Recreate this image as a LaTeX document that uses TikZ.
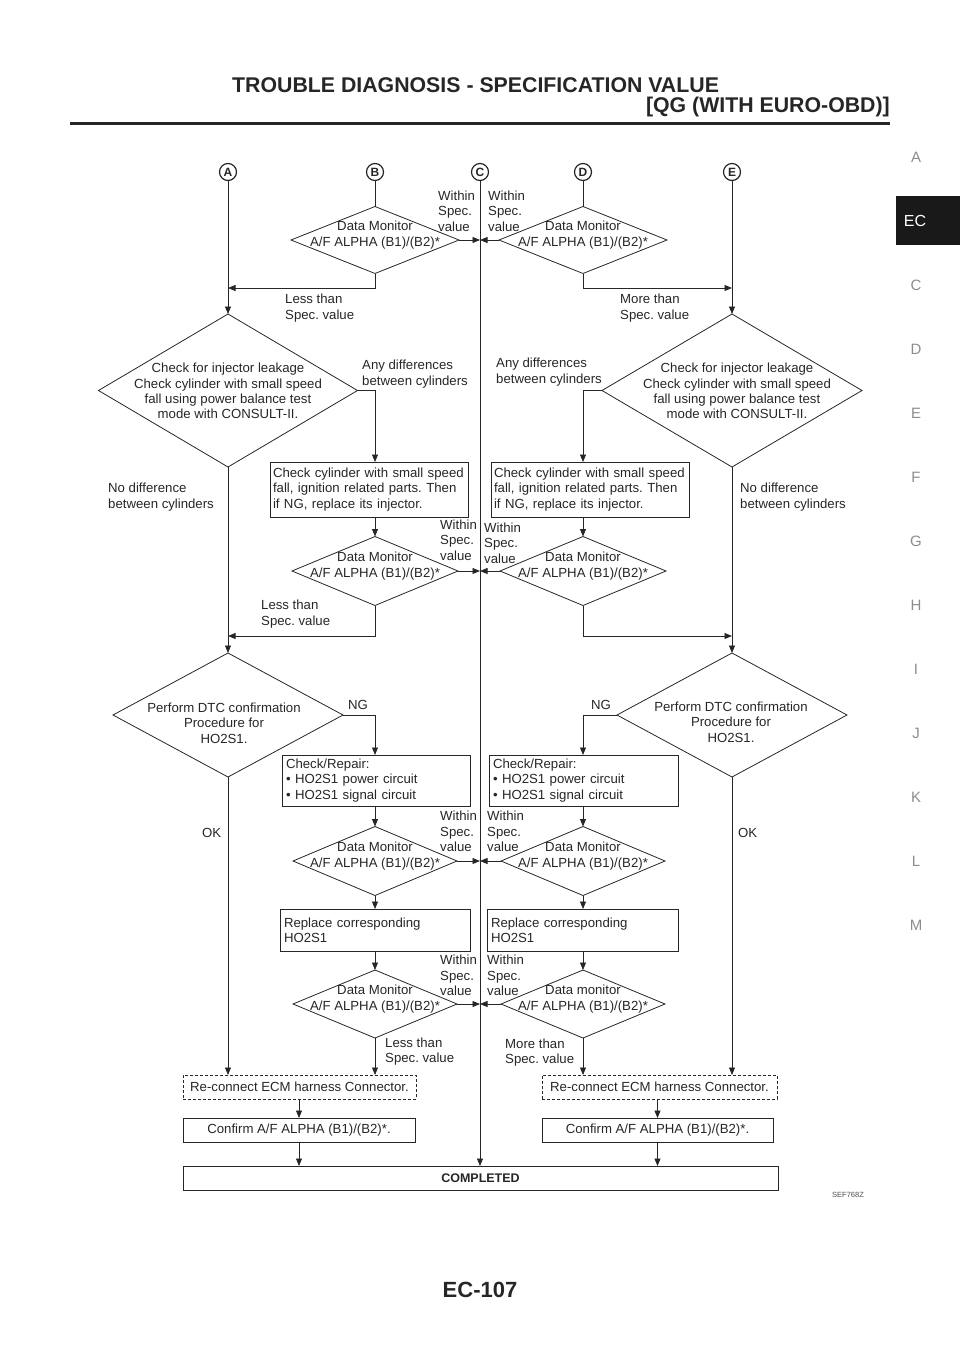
\documentclass[tikz,border=0pt]{standalone}
\usepackage{fontspec}
\setmainfont{Liberation Sans}
\usetikzlibrary{shapes.geometric,arrows.meta,calc}
\definecolor{ink}{gray}{0.15}
\definecolor{side}{gray}{0.55}
\frenchspacing
\begin{document}
\begin{tikzpicture}[x=1pt,y=-1pt,
  txt/.style={font=\fontsize{13.2}{15.4}\selectfont, text=ink, inner sep=0pt, align=left},
  ctxt/.style={txt, align=center},
  dia/.style={diamond, draw=ink, line width=0.8pt, inner sep=0pt, outer sep=0pt},
  boxn/.style={rectangle, draw=ink, line width=0.8pt, inner xsep=4pt, inner ysep=0pt, outer sep=0pt,
    font=\fontsize{13.2}{15.4}\selectfont, text=ink, align=left},
  cbox/.style={rectangle, draw=ink, line width=0.8pt, inner sep=0pt, outer sep=0pt,
    font=\fontsize{13.2}{15.4}\selectfont, text=ink, align=center, minimum height=24pt},
  conn/.style={draw=ink, line width=0.8pt},
  arr/.style={conn, -{Triangle[length=7.5pt,width=6pt]}},
  circ/.style={circle, draw=ink, line width=1.2pt, minimum size=17pt, inner sep=0pt,
    font=\fontsize{12}{12}\selectfont\bfseries, text=ink},
  sidel/.style={font=\fontsize{15}{15}\selectfont, text=side, inner sep=0pt},
]
\useasboundingbox (0,0) rectangle (960,1358);

% ---------- header ----------
\node[anchor=base west, inner sep=0pt, font=\fontsize{21.3}{24}\selectfont\bfseries, text=ink] (title) at (232,92) {TROUBLE DIAGNOSIS - SPECIFICATION VALUE};
\node[anchor=base east, inner sep=0pt, font=\fontsize{21.3}{24}\selectfont\bfseries, text=ink] (subtitle) at (890,112) {[QG (WITH EURO-OBD)]};
\draw[line width=3pt, draw=ink] (70,123.5) -- (890,123.5);

% ---------- side index ----------
\fill[black!90] (896,196) rectangle (960,245);
\node[font=\fontsize{16}{16}\selectfont, text=white, inner sep=0pt] (ec) at (915,221) {EC};
\node[sidel] (sA) at (916,157) {A};
\node[sidel] (sC) at (916,285) {C};
\node[sidel] (sD) at (916,349) {D};
\node[sidel] (sE) at (916,413) {E};
\node[sidel] (sF) at (916,477) {F};
\node[sidel] (sG) at (916,541) {G};
\node[sidel] (sH) at (916,605) {H};
\node[sidel] (sI) at (916,669) {I};
\node[sidel] (sJ) at (916,733) {J};
\node[sidel] (sK) at (916,797) {K};
\node[sidel] (sL) at (916,861) {L};
\node[sidel] (sM) at (916,925) {M};

% ---------- footer ----------
\node[font=\fontsize{22}{24}\selectfont\bfseries, text=ink, inner sep=0pt] (page) at (480,1290) {EC-107};
\node[font=\fontsize{7.5}{8}\selectfont, text=black!70, inner sep=0pt] (code) at (848,1195) {SEF768Z};

% ---------- start points ----------
\node[circ] (A) at (228,172) {A};
\node[circ] (B) at (375,172) {B};
\node[circ] (C) at (480,172) {C};
\node[circ] (D) at (583,172) {D};
\node[circ] (E) at (732,172) {E};

% ---------- row 1: data monitor ----------
\node[dia, minimum width=168pt, minimum height=67pt] (b1) at (375,240) {};
\node[ctxt] (b1t) at ($(b1)+(0,-5)$) {Data Monitor\\A/F ALPHA (B1)/(B2)*};
\node[dia, minimum width=168pt, minimum height=67pt] (r1) at (583,240) {};
\node[ctxt] (r1t) at ($(r1)+(0,-5)$) {Data Monitor\\A/F ALPHA (B1)/(B2)*};
\node[txt, anchor=west] (w1l) at (438,211) {Within\\Spec.\\value};
\node[txt, anchor=west] (w1r) at (488,211) {Within\\Spec.\\value};
\node[txt, anchor=west] (lt1) at (285,308) {Less than\\Spec. value};
\node[txt, anchor=west] (mt1) at (620,308) {More than\\Spec. value};

% ---------- row 2: injector leakage ----------
\node[dia, minimum width=259pt, minimum height=153pt] (l2) at (228,390.5) {};
\node[ctxt] (l2t) at (228,391) {Check for injector leakage\\Check cylinder with small speed\\fall using power balance test\\mode with CONSULT-II.};
\node[dia, minimum width=260pt, minimum height=153pt] (r2) at (732,390.5) {};
\node[ctxt] (r2t) at (737,391) {Check for injector leakage\\Check cylinder with small speed\\fall using power balance test\\mode with CONSULT-II.};
\node[txt, anchor=west] (ad1) at (362,374) {Any differences\\between cylinders};
\node[txt, anchor=west] (ad2) at (496,372) {Any differences\\between cylinders};
\node[txt, anchor=west] (nd1) at (108,497) {No difference\\between cylinders};
\node[txt, anchor=west] (nd2) at (740,497) {No difference\\between cylinders};

\node[boxn, inner xsep=3pt, text width=192pt, minimum height=55pt] (lb1) at (369,489.5) {Check cylinder with small speed\\fall, ignition related parts. Then\\if NG, replace its injector.};
\node[boxn, inner xsep=3pt, text width=192pt, minimum height=55pt] (rb1) at (590,489.5) {Check cylinder with small speed\\fall, ignition related parts. Then\\if NG, replace its injector.};

% ---------- row 3: data monitor ----------
\node[dia, minimum width=166pt, minimum height=69pt] (l3) at (375,571) {};
\node[ctxt] (l3t) at ($(l3)+(0,-5)$) {Data Monitor\\A/F ALPHA (B1)/(B2)*};
\node[dia, minimum width=166pt, minimum height=69pt] (r3) at (583,571) {};
\node[ctxt] (r3t) at ($(r3)+(0,-5)$) {Data Monitor\\A/F ALPHA (B1)/(B2)*};
\node[txt, anchor=west] (w3l) at (440,540) {Within\\Spec.\\value};
\node[txt, anchor=west] (w3r) at (484,543) {Within\\Spec.\\value};
\node[txt, anchor=west] (lt3) at (261,614) {Less than\\Spec. value};

% ---------- row 4: DTC ----------
\node[dia, minimum width=230pt, minimum height=124pt] (l4) at (228,715) {};
\node[ctxt] (l4t) at (224,723) {Perform DTC confirmation\\Procedure for\\HO2S1.};
\node[dia, minimum width=230pt, minimum height=124pt] (r4) at (732,715) {};
\node[ctxt] (r4t) at (731,722) {Perform DTC confirmation\\Procedure for\\HO2S1.};
\node[txt, anchor=west] (ng1) at (348,705) {NG};
\node[txt, anchor=west] (ng2) at (591,705) {NG};
\node[txt, anchor=west] (ok1) at (202,833) {OK};
\node[txt, anchor=west] (ok2) at (738,833) {OK};

\node[boxn, text width=180pt, minimum height=51pt] (lc) at (376,780.5) {Check/Repair:\\\textbullet{} HO2S1 power circuit\\\textbullet{} HO2S1 signal circuit};
\node[boxn, text width=181pt, minimum height=51pt] (rc) at (583.5,780.5) {Check/Repair:\\\textbullet{} HO2S1 power circuit\\\textbullet{} HO2S1 signal circuit};

% ---------- row 5: data monitor ----------
\node[dia, minimum width=164pt, minimum height=69pt] (l5) at (375,861) {};
\node[ctxt] (l5t) at ($(l5)+(0,-5)$) {Data Monitor\\A/F ALPHA (B1)/(B2)*};
\node[dia, minimum width=164pt, minimum height=69pt] (r5) at (583,861) {};
\node[ctxt] (r5t) at ($(r5)+(0,-5)$) {Data Monitor\\A/F ALPHA (B1)/(B2)*};
\node[txt, anchor=west] (w5l) at (440,831.5) {Within\\Spec.\\value};
\node[txt, anchor=west] (w5r) at (487,831.5) {Within\\Spec.\\value};

% ---------- row 6: replace ----------
\node[boxn, text width=182pt, minimum height=42pt] (l6) at (375,930) {Replace corresponding\\HO2S1};
\node[boxn, text width=183pt, minimum height=42pt] (r6) at (582.5,930) {Replace corresponding\\HO2S1};

% ---------- row 7: data monitor ----------
\node[dia, minimum width=164pt, minimum height=68pt] (l7) at (375,1004) {};
\node[ctxt] (l7t) at ($(l7)+(0,-5)$) {Data Monitor\\A/F ALPHA (B1)/(B2)*};
\node[dia, minimum width=164pt, minimum height=68pt] (r7) at (583,1004) {};
\node[ctxt] (r7t) at ($(r7)+(0,-5)$) {Data monitor\\A/F ALPHA (B1)/(B2)*};
\node[txt, anchor=west] (w7l) at (440,975.5) {Within\\Spec.\\value};
\node[txt, anchor=west] (w7r) at (487,975.5) {Within\\Spec.\\value};
\node[txt, anchor=west] (lt7) at (385,1051.5) {Less than\\Spec. value};
\node[txt, anchor=west] (mt7) at (505,1052.5) {More than\\Spec. value};

% ---------- bottom ----------
\node[cbox, dash pattern=on 3pt off 2pt, minimum width=233pt] (lre) at (299.5,1087) {Re-connect ECM harness Connector.};
\node[cbox, dash pattern=on 3pt off 2pt, minimum width=235pt] (rre) at (659.5,1087) {Re-connect ECM harness Connector.};
\node[cbox, minimum width=232pt] (lco) at (299,1130) {Confirm A/F ALPHA (B1)/(B2)*.};
\node[cbox, minimum width=231pt] (rco) at (657.5,1130) {Confirm A/F ALPHA (B1)/(B2)*.};
\node[cbox, minimum width=595pt, font=\fontsize{12.5}{14}\selectfont\bfseries] (done) at (480.5,1178) {COMPLETED};

% ---------- connectors ----------
\coordinate (c1) at (480,240);
\coordinate (c2) at (480,571);
\coordinate (c3) at (480,861);
\coordinate (c4) at (480,1004);
\coordinate (a1) at (228,288);
\coordinate (e1) at (732,288);
\coordinate (a2) at (228,636);
\coordinate (e2) at (732,636);

\draw[arr] (A.south) -- (l2.north);
\draw[conn] (B.south) -- (b1.north);
\draw[arr] (C.south) -- (C.south |- done.north);
\draw[conn] (D.south) -- (r1.north);
\draw[arr] (E.south) -- (r2.north);

\draw[arr] (b1.east) -- (c1);
\draw[arr] (r1.west) -- (c1);
\draw[arr] (b1.south) |- (a1);
\draw[arr] (r1.south) |- (e1);

\draw[arr] (l2.east) -| (b1.south |- lb1.north);
\draw[arr] (r2.west) -| (r1.south |- rb1.north);
\draw[arr] (b1.south |- lb1.south) -- (l3.north);
\draw[arr] (r1.south |- rb1.south) -- (r3.north);

\draw[arr] (l3.east) -- (c2);
\draw[arr] (r3.west) -- (c2);
\draw[arr] (l3.south) |- (a2);
\draw[arr] (r3.south) |- (e2);

\draw[arr] (l2.south) -- (l4.north);
\draw[arr] (r2.south) -- (r4.north);
\draw[arr] (l4.east) -| (l3.south |- lc.north);
\draw[arr] (r4.west) -| (r3.south |- rc.north);
\draw[arr] (l3.south |- lc.south) -- (l5.north);
\draw[arr] (r3.south |- rc.south) -- (r5.north);

\draw[arr] (l5.east) -- (c3);
\draw[arr] (r5.west) -- (c3);
\draw[arr] (l5.south) -- (l5.south |- l6.north);
\draw[arr] (r5.south) -- (r5.south |- r6.north);
\draw[arr] (l5.south |- l6.south) -- (l7.north);
\draw[arr] (r5.south |- r6.south) -- (r7.north);

\draw[arr] (l7.east) -- (c4);
\draw[arr] (r7.west) -- (c4);
\draw[arr] (l7.south) -- (l7.south |- lre.north);
\draw[arr] (r7.south) -- (r7.south |- rre.north);
\draw[arr] (l4.south) -- (l4.south |- lre.north);
\draw[arr] (r4.south) -- (r4.south |- rre.north);

\draw[arr] (lco.north |- lre.south) -- (lco.north);
\draw[arr] (rco.north |- rre.south) -- (rco.north);
\draw[arr] (lco.south) -- (lco.south |- done.north);
\draw[arr] (rco.south) -- (rco.south |- done.north);
\end{tikzpicture}
\end{document}
